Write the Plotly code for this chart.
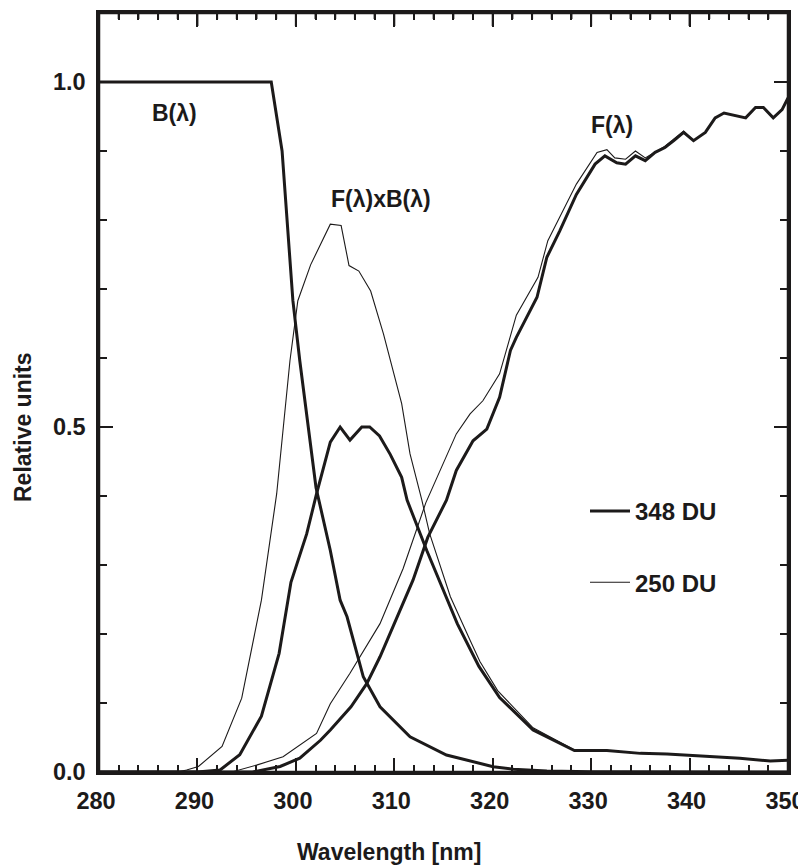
import plotly.graph_objects as go

# ---------------- data ----------------
# B(lambda): action spectrum
wl_B = [280, 297.5, 298.6, 299.7, 300.4, 302.05, 303.5, 304.5, 305.2, 306.85,
        308.55, 311.6, 315.3, 318.7, 320.05, 322.1, 325.5, 330, 350]
B = [1.0, 1.0, 0.90, 0.683, 0.596, 0.412, 0.321, 0.249, 0.225, 0.138,
     0.0945, 0.051, 0.0246, 0.0125, 0.0077, 0.004, 0.0014, 0.0005, 0.0]

# F(lambda) x B(lambda), 348 DU (thick)
wl_FB348 = [280, 290, 292.3, 294.3, 296.5, 298.3, 299.5, 301.1, 302.1, 303.5,
            304.5, 305.5, 306.7, 307.5, 308.5, 309.6, 310.75, 311.3, 313.3,
            316.4, 318.6, 320.7, 324.1, 328.3, 331.6, 335, 337.7, 340.4,
            345.1, 348.2, 350]
FB348 = [0.0, 0.0, 0.003, 0.025, 0.081, 0.172, 0.275, 0.345, 0.403, 0.478,
         0.50, 0.481, 0.50, 0.50, 0.487, 0.46, 0.427, 0.394, 0.321,
         0.215, 0.153, 0.108, 0.061, 0.031, 0.031, 0.027, 0.026, 0.0236,
         0.020, 0.016, 0.017]

# F(lambda) x B(lambda), 250 DU (thin)
wl_FB250 = [280, 288, 288.9, 290.1, 292.5, 294.5, 296.5, 298.05, 299.4, 300.2,
            301.5, 303.5, 304.6, 305.4, 306.4, 307.6, 308.9, 310.75, 311.6,
            312.8, 313.6, 315.7, 317.7, 318.7, 320.5, 324.1, 328.3, 331.6,
            335, 337.7, 340.4, 345.1, 348.2, 350]
FB250 = [0.0, 0.0, 0.003, 0.008, 0.037, 0.107, 0.249, 0.403, 0.596, 0.683,
         0.735, 0.794, 0.792, 0.734, 0.726, 0.697, 0.635, 0.534, 0.461,
         0.394, 0.345, 0.254, 0.191, 0.16, 0.118, 0.064, 0.032, 0.031,
         0.027, 0.026, 0.0236, 0.020, 0.016, 0.017]

# F(lambda), 348 DU (thick)
wl_F348 = [280, 295.6, 298.4, 300.4, 302.5, 303.5, 305.6, 307.2, 308.55, 310.6,
           311.9, 313.4, 315.3, 316.3, 318, 319.4, 320.7, 321.8, 322.4, 324.5,
           325.5, 326.8, 328.5, 330.4, 331.4, 332.6, 333.5, 334.5, 335.5,
           336.5, 337.5, 338.4, 339.4, 340.4, 341.6, 342.6, 343.5, 345.7,
           346.7, 347.5, 348.5, 349.4, 350]
F348 = [0.0, 0.0, 0.008, 0.02, 0.046, 0.061, 0.0945, 0.128, 0.167, 0.236,
        0.278, 0.34, 0.394, 0.437, 0.48, 0.497, 0.543, 0.611, 0.63, 0.688,
        0.746, 0.784, 0.837, 0.881, 0.893, 0.883, 0.881, 0.893, 0.886,
        0.898, 0.905, 0.915, 0.927, 0.915, 0.927, 0.948, 0.955, 0.948,
        0.963, 0.963, 0.948, 0.96, 0.977]

# F(lambda), 250 DU (thin)
wl_F250 = [280, 293.6, 296, 298.7, 302.1, 303.5, 305.5, 308.55, 310.9, 313.2,
           316.3, 317.7, 319, 320.7, 322.4, 324.6, 325.6, 328.5, 330.6, 331.6,
           332.4, 333.5, 334.5, 335.5, 337.5, 339.4, 340.4, 341.6, 342.6,
           343.5, 345.7, 346.7, 347.5, 348.5, 349.4, 350]
F250 = [0.0, 0.0005, 0.01, 0.022, 0.056, 0.099, 0.143, 0.215, 0.295, 0.39,
        0.49, 0.519, 0.538, 0.577, 0.662, 0.717, 0.77, 0.852, 0.898, 0.902,
        0.89, 0.888, 0.90, 0.89, 0.907, 0.929, 0.915, 0.927, 0.948,
        0.955, 0.948, 0.963, 0.963, 0.948, 0.96, 0.977]

# axis ticks
x_major = [280, 290, 300, 310, 320, 330, 340, 350]
x_minor_step = 2
y_major = [0.0, 0.5, 1.0]
y_minor_step = 0.1

# labels
curve_labels = ["B(λ)", "F(λ)xB(λ)", "F(λ)"]
curve_label_pos = [(287.7, 0.955), (308.6, 0.830), (332.1, 0.937)]
legend_names = ["348 DU", "250 DU"]
x_title = "Wavelength [nm]"
y_title = "Relative units"

# ---------------- figure ----------------
INK = "#1c1a1a"
THICK = 3.0
THIN = 1.1
FONT = dict(family="Liberation Sans, Arial, sans-serif", size=23, color=INK, weight=700)
TICKFONT = dict(FONT, size=23.5)
LEGFONT = dict(FONT, size=24)

PLOT_W, PLOT_H = 689, 759   # plotting-area size in px

fig = go.Figure()
fig.add_trace(go.Scatter(x=wl_B, y=B, mode="lines", line=dict(color=INK, width=THICK),
                         showlegend=False))
fig.add_trace(go.Scatter(x=wl_FB250, y=FB250, mode="lines", line=dict(color=INK, width=THIN),
                         showlegend=False))
fig.add_trace(go.Scatter(x=wl_FB348, y=FB348, mode="lines", line=dict(color=INK, width=THICK),
                         showlegend=False))
fig.add_trace(go.Scatter(x=wl_F250, y=F250, mode="lines", line=dict(color=INK, width=THIN),
                         name=legend_names[1], legendgroup="b", legendrank=2))
fig.add_trace(go.Scatter(x=wl_F348, y=F348, mode="lines", line=dict(color=INK, width=THICK),
                         name=legend_names[0], legendgroup="a", legendrank=1))

for txt, (xx, yy) in zip(curve_labels, curve_label_pos):
    fig.add_annotation(x=xx, y=yy, text=txt, showarrow=False, font=FONT,
                       xanchor="center", yanchor="middle")

fig.add_annotation(xref="paper", yref="paper", x=(389 - 99) / PLOT_W, y=(772 - 852) / PLOT_H,
                   text=x_title, showarrow=False, font=FONT, xanchor="center", yanchor="middle")
fig.add_annotation(xref="paper", yref="paper", x=(23 - 99) / PLOT_W, y=(772 - 427) / PLOT_H,
                   text=y_title, showarrow=False, font=FONT, textangle=-90,
                   xanchor="center", yanchor="middle")

axis_common = dict(showline=True, linewidth=2.5, linecolor=INK, mirror="allticks",
                   ticks="inside", tickwidth=2, tickcolor=INK, showgrid=False,
                   zeroline=False, tickfont=TICKFONT, automargin=False)

fig.update_layout(
    xaxis=dict(range=[x_major[0], x_major[-1]], tickmode="array", tickvals=x_major,
               ticklen=14,
               minor=dict(ticks="inside", tickmode="linear", tick0=x_major[0],
                          dtick=x_minor_step, ticklen=7, tickwidth=2, tickcolor=INK,
                          showgrid=False),
               ticklabelstandoff=6, ticklabelshift=-3, **axis_common),
    yaxis=dict(range=[0, 1.1], tickmode="array", tickvals=y_major,
               ticktext=[f"{v:.1f}" for v in y_major], ticklen=14,
               minor=dict(ticks="inside", tickmode="linear", tick0=0, dtick=y_minor_step,
                          ticklen=8, tickwidth=2, tickcolor=INK, showgrid=False),
               ticklabelstandoff=6, **axis_common),
)

# frame around the plotting area
fig.add_shape(type="rect", xref="paper", yref="paper", x0=0, y0=0, x1=1, y1=1,
              line=dict(color=INK, width=2.5), fillcolor="rgba(0,0,0,0)", layer="above")

# mirrored tick marks on the top and right edges
n_x = int(round((x_major[-1] - x_major[0]) / x_minor_step))
for i in range(1, n_x):
    xv = x_major[0] + i * x_minor_step
    L = 13 if xv in x_major else 6
    fig.add_shape(type="line", xref="x", yref="paper", x0=xv, x1=xv, y0=1, y1=1 - L / PLOT_H,
                  line=dict(color=INK, width=2), layer="above")
n_y = int(round(1.1 / y_minor_step))
for i in range(1, n_y):
    yv = round(i * y_minor_step, 3)
    L = 14 if any(abs(yv - m) < 1e-9 for m in y_major) else 7
    fig.add_shape(type="line", xref="paper", yref="y", x0=1, x1=1 - L / PLOT_W, y0=yv, y1=yv,
                  line=dict(color=INK, width=2), layer="above")

# the page adds an 8 px body margin, so the figure is 8 px smaller and margins shifted
fig.update_layout(
    width=798, height=859,
    margin=dict(l=91, r=18, t=5, b=95, pad=0, autoexpand=False),
    paper_bgcolor="white", plot_bgcolor="white",
    font=FONT,
    showlegend=True,
    legend=dict(x=(585 - 99) / PLOT_W, y=(772 - 489) / PLOT_H, xanchor="left", yanchor="top",
                bgcolor="rgba(0,0,0,0)", borderwidth=0, font=LEGFONT,
                traceorder="grouped", tracegroupgap=37, itemwidth=40),
)

fig.write_html("out.html")
